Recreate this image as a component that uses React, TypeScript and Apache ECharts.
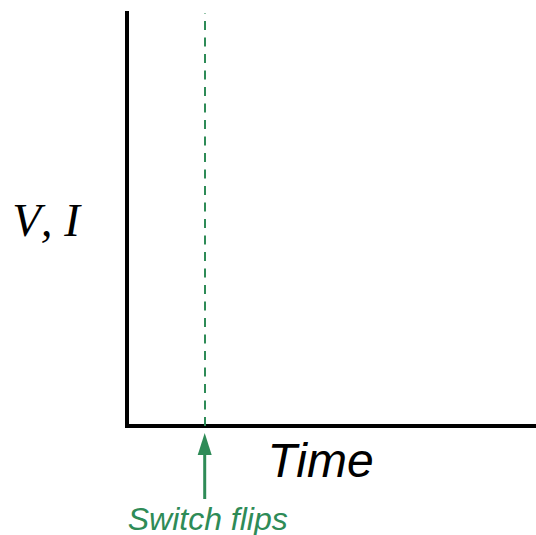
import React, { useEffect, useRef } from "react";
import * as echarts from "echarts";

const timeRange = [0, 100];
const valueRange = [0, 100];
const switchTimes = [19];
const axisNames = ["Time", "V, I"];
const eventLabels = ["Switch flips"];

const GREEN = "#2e8b57";

export default function App() {
  const ref = useRef<HTMLDivElement>(null);
  useEffect(() => {
    if (!ref.current) return;
    const chart = echarts.init(ref.current, undefined, { renderer: "svg" });
    const axisCommon = {
      type: "value" as const,
      axisLine: { show: true, lineStyle: { color: "#000", width: 4, cap: "square" } },
      axisTick: { show: false },
      axisLabel: { show: false },
      splitLine: { show: false },
    };
    chart.setOption({
      animation: false,
      backgroundColor: "#fff",
      grid: { left: 127, right: 0, top: 13, bottom: 109 },
      xAxis: { ...axisCommon, min: timeRange[0], max: timeRange[1] },
      yAxis: {
        ...axisCommon,
        min: valueRange[0],
        max: valueRange[1],
        name: axisNames[1],
        nameLocation: "middle",
        nameRotate: 0,
        nameGap: 47,
        nameTextStyle: {
          fontFamily: "Liberation Serif",
          fontStyle: "italic",
          fontSize: 47,
          color: "#000",
        },
      },
      series: [
        {
          type: "line",
          data: [],
          markLine: {
            silent: true,
            symbol: ["none", "none"],
            label: { show: false },
            lineStyle: { color: GREEN, width: 2, type: [9, 7.5] },
            data: switchTimes.map((t) => ({ xAxis: t })),
          },
        },
      ],
    });
    const px = chart.convertToPixel({ xAxisIndex: 0 }, switchTimes[0]) as number;
    const baseY = chart.convertToPixel({ yAxisIndex: 0 }, valueRange[0]) as number;
    const tipY = baseY + 7;
    chart.setOption({
      graphic: [
        {
          type: "line",
          shape: { x1: px, y1: tipY + 66, x2: px, y2: tipY + 18 },
          style: { stroke: GREEN, lineWidth: 3 },
        },
        {
          type: "polygon",
          shape: {
            points: [
              [px, tipY],
              [px - 7, tipY + 22],
              [px + 7, tipY + 22],
            ],
          },
          style: { fill: GREEN },
        },
        {
          type: "text",
          x: px + 3,
          y: baseY + 93,
          style: {
            text: eventLabels[0],
            fill: GREEN,
            font: "italic 32px 'Liberation Sans', Arial, sans-serif",
            align: "center",
            verticalAlign: "middle",
          },
        },
        {
          type: "text",
          x: 320.5,
          y: baseY + 34,
          style: {
            text: axisNames[0],
            fill: "#000",
            font: "italic 48px 'Liberation Sans', Arial, sans-serif",
            align: "center",
            verticalAlign: "middle",
          },
        },
      ],
    });
    return () => chart.dispose();
  }, []);
  return (
    <div
      ref={ref}
      style={{ position: "fixed", left: 0, top: 0, width: 536, height: 535, fontKerning: "none" }}
    />
  );
}
